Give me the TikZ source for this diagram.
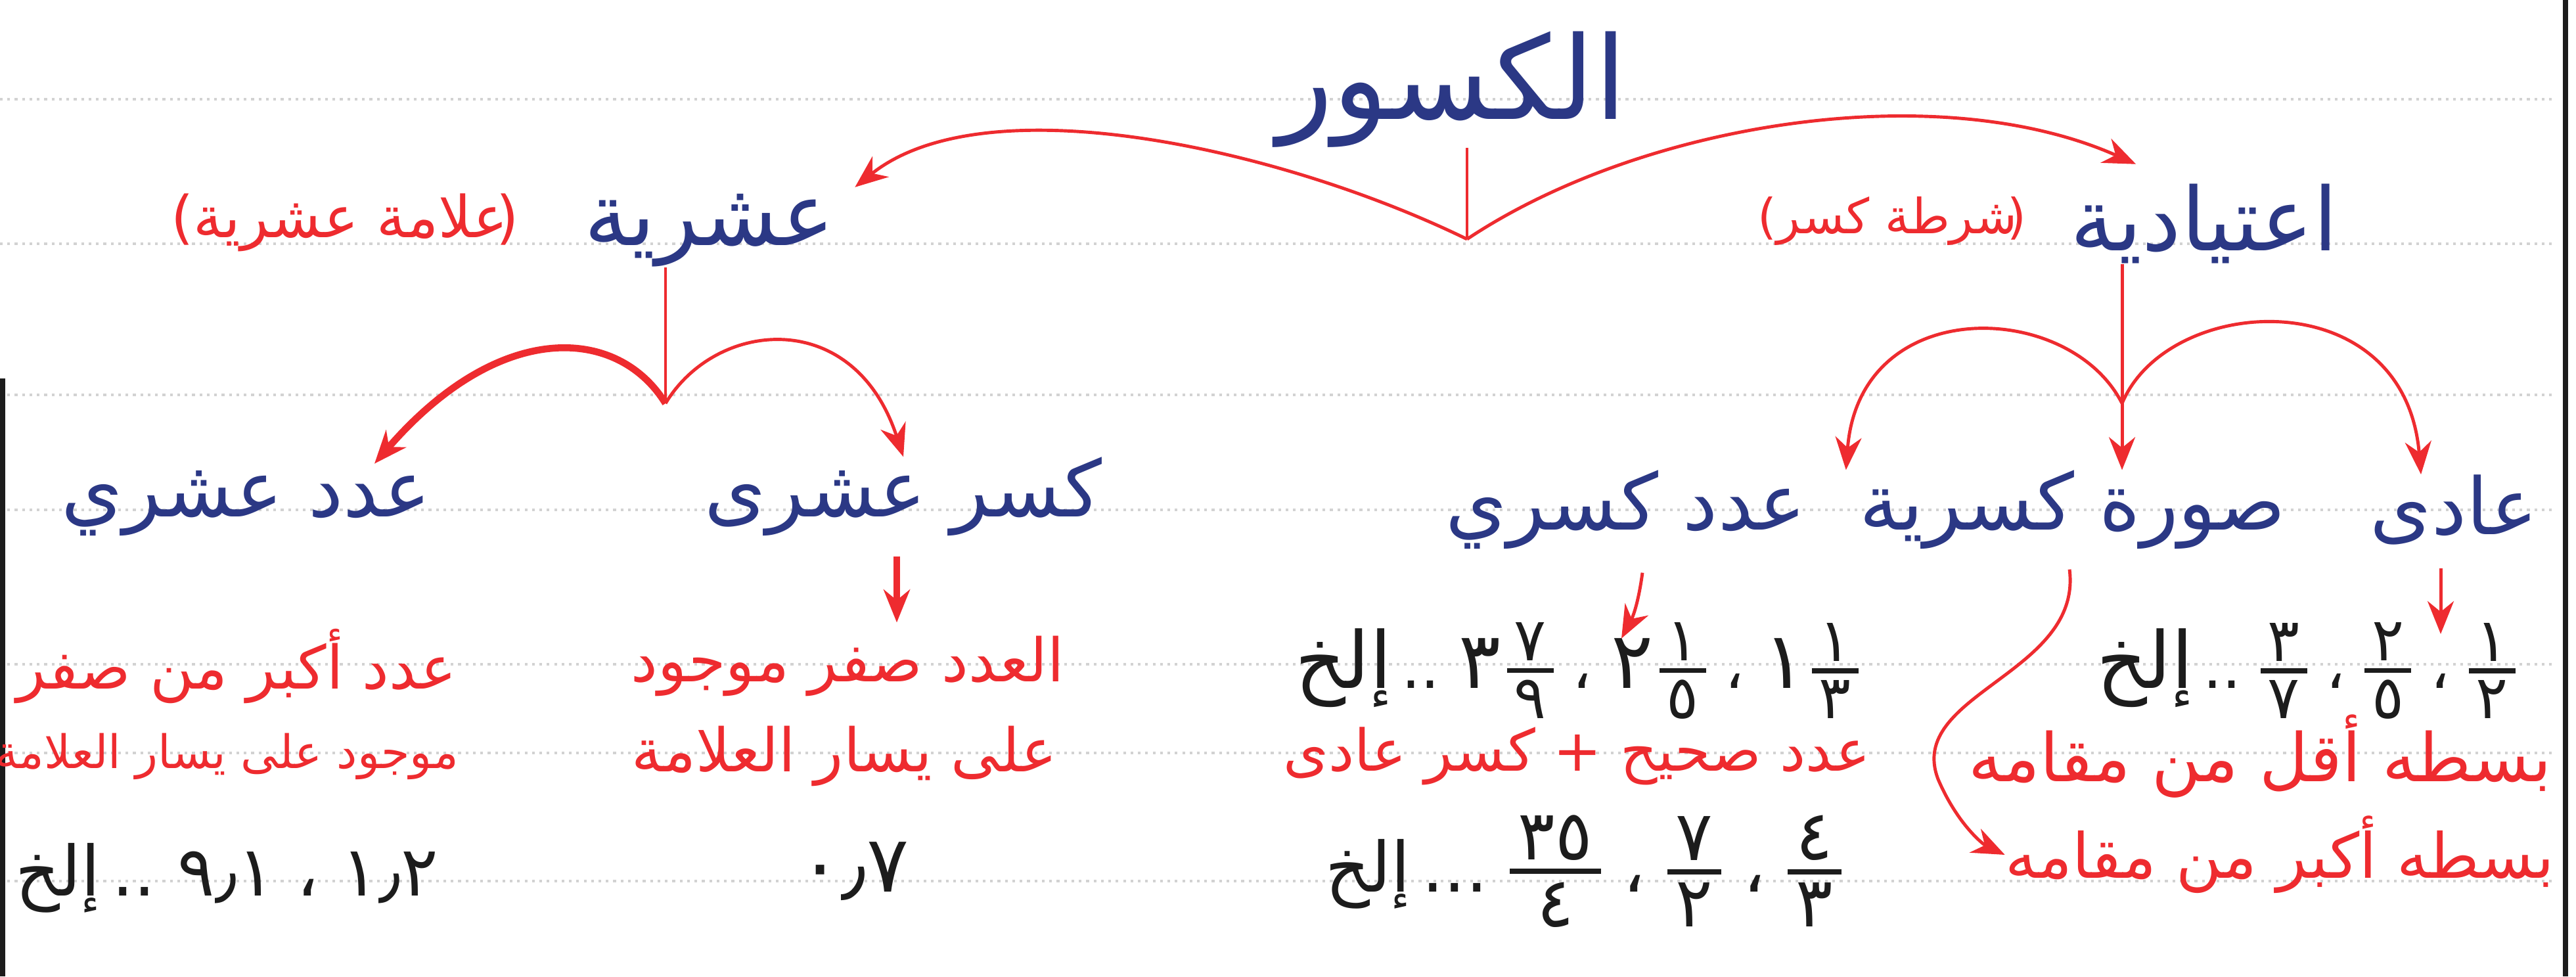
\documentclass[tikz,border=0pt]{standalone}
\usepackage{fontspec}
\usetikzlibrary{arrows.meta,calc}
\TeXXeTstate=1
\newfontfamily\arabicfont[Script=Arabic]{DejaVu Sans}
\definecolor{inkblue}{HTML}{2B3885}
\definecolor{inkred}{HTML}{EE2B2F}
\definecolor{inkblack}{HTML}{1C1C1C}
\newcommand{\artext}[1]{\beginR #1\endR}
\newcommand{\afrac}[2]{\raisebox{-0.5em}{\vbox{\offinterlineskip
  \halign{\hfil\kern.12em##\kern.12em\hfil\cr #1\cr
  \noalign{\kern.12em\hrule height .08em\kern.12em}#2\cr}}}}
\newcommand{\whole}[1]{{\fontsize{34}{40}\selectfont #1}}

\begin{document}
\begin{tikzpicture}[
    toptitle/.style={font=\fontsize{50}{60}\arabicfont, text=inkblue, inner sep=0pt},
    kind/.style={font=\fontsize{38}{46}\arabicfont, text=inkblue, inner sep=0pt},
    subkind/.style={font=\fontsize{34}{40}\arabicfont, text=inkblue, inner sep=0pt},
    note/.style={font=\fontsize{26}{32}\arabicfont, text=inkred, inner sep=0pt},
    sample/.style={font=\fontsize{26}{30}\arabicfont, text=inkblack, inner sep=0pt},
    bigsample/.style={font=\fontsize{34}{40}\arabicfont, text=inkblack, inner sep=0pt},
    link/.style={draw=inkred, line width=1.4pt},
    paperline/.style={draw=gray!35, dotted, line width=1.2pt},
    >={Stealth[length=5mm,width=4mm]}
]

% --- PAPER ---
\useasboundingbox (0,0) rectangle (39.21,14.86);
\fill[white] (0,0) rectangle (39.21,14.86);
\foreach \y in {13.35,11.15,8.85,7.1,4.75,3.4,1.45}
  \draw[paperline] (0,\y) -- (38.9,\y);
\draw[inkblack, line width=2.5pt] (39.05,0) -- (39.05,14.86);
\draw[inkblack, line width=2.5pt] (0.04,0) -- (0.04,9.1);

% --- KUSUR ---
\node[toptitle] (kusur) at (22.1,13.5) {\artext{الكسور}};
\node[kind] (ashr) at (10.8,11.35) {\artext{عشرية}};
\node[note, font=\fontsize{25}{30}\arabicfont] (ashrsign) at (5.25,11.47) {)\artext{علامة عشرية}\kern-.2em(};
\node[kind] (itiyad) at (33.55,11.45) {\artext{اعتيادية}};
\node[note, font=\fontsize{21}{26}\arabicfont] (itiyadsign) at (28.8,11.5) {)\artext{شرطة كسر}\kern-.2em(};

\coordinate (topfork) at (22.33,11.22);
\draw[link] (kusur.south -| topfork) -- (topfork);
\draw[link,->] (topfork) .. controls (19.5,12.6) and (15,13.6) .. ([shift={(0.3,0.1)}]ashr.north east);
\draw[link,->] (topfork) .. controls (25,13.0) and (29.5,13.7) .. ([shift={(1.0,0.3)}]itiyad.north west);

% --- ASHRIYA ---
\node[subkind] (adadashr) at (3.75,7.2) {\artext{عدد عشري}};
\node[subkind] (kasrashr) at (13.75,7.3) {\artext{كسر عشرى}};
\coordinate (leftfork) at (10.13,8.72);
\draw[link] (ashr.south -| leftfork) -- (leftfork);
\draw[link,line width=3pt,->] (leftfork) .. controls (9.4,9.9) and (7.6,10.0) .. ([shift={(1.95,0.1)}]adadashr.north);
\draw[link,->] (leftfork) .. controls (10.9,10.0) and (13.0,10.2) .. (kasrashr.north);

\node[note] (kasrnote) at (12.9,4.72) {\artext{العدد صفر موجود}};
\node[note] (kasrnote2) at (12.85,3.35) {\artext{على يسار العلامة}};
\node[note] (adadnote) at (3.6,4.72) {\artext{عدد أكبر من صفر}};
\node[note, font=\fontsize{20}{24}\arabicfont] (adadnote2) at (3.45,3.35) {\artext{موجود على يسار العلامة}};
\draw[link,line width=3pt,->] ($(kasrashr.south)+(-0.1,-0.3)$) -- ($(kasrashr.south |- kasrnote.north)+(-0.1,0.2)$);

\node[bigsample] (kasrex) at (13.0,1.6) {٠٫٧};
\node[bigsample, font=\fontsize{30}{36}\arabicfont] (adadex) at (3.45,1.5) {\artext{إلخ}\,..\ ٩٫١\ ،\ ١٫٢};

% --- ITIYADIYA ---
\node[subkind] (adi) at (37.35,7.1) {\artext{عادى}};
\node[subkind] (sura) at (31.55,7.1) {\artext{صورة كسرية}};
\node[subkind] (adadkasri) at (24.75,7.1) {\artext{عدد كسري}};
\coordinate (rightfork) at (32.3,8.72);
\draw[link] (itiyad.south -| rightfork) -- (rightfork);
\draw[link,->] (rightfork) -- (rightfork |- sura.north);
\draw[link,->] (rightfork) .. controls (31.5,10.3) and (28.3,10.4) .. ([xshift=0.6cm]adadkasri.north east);
\draw[link,->] (rightfork) .. controls (33.0,10.4) and (36.6,10.6) .. ([xshift=-0.5cm]adi.north);

\node[sample] (adiex) at (35.1,4.65) {\whole{\artext{إلخ}}\,..\ \afrac{٣}{٧}\ ،\ \afrac{٢}{٥}\ ،\ \afrac{١}{٢}};
\node[note, font=\fontsize{29}{35}\arabicfont] (adinote) at (34.4,3.35) {\artext{بسطه أقل من مقامه}};
\node[sample] (kasriex) at (24.0,4.65) {\whole{\artext{إلخ}}\,..\ \whole{٣}\kern.1em\afrac{٧}{٩}\ ،\ \whole{٢}\kern.1em\afrac{١}{٥}\ ،\ \whole{١}\kern.1em\afrac{١}{٣}};
\node[note, font=\fontsize{25}{30}\arabicfont] (kasrinote) at (24.0,3.35) {\artext{عدد صحيح + كسر عادى}};
\node[note, font=\fontsize{27}{32}\arabicfont] (suranote) at (34.7,1.85) {\artext{بسطه أكبر من مقامه}};
\node[bigsample, font=\fontsize{30}{36}\arabicfont] (suraex) at (24.1,1.6) {\artext{إلخ}\,...\ \afrac{٣٥}{٤}\ ،\ \afrac{٧}{٢}\ ،\ \afrac{٤}{٣}};

\draw[link,->] ($(adi.south)+(-0.2,-0.35)$) -- ($(adi.south)+(-0.2,-1.35)$);
\draw[link,->] ($(adadkasri.south)+(0.25,-0.35)$) to[bend left=10] ($(adadkasri.south)+(-0.07,-1.35)$);
\draw[link,->] ($(sura.south)+(-0.05,-0.3)$) .. controls (31.7,4.6) and (29.0,4.3) .. (29.5,3.0)
  .. controls (29.8,2.3) and (30.2,2.0) .. (suranote.west);

\end{tikzpicture}
\end{document}
